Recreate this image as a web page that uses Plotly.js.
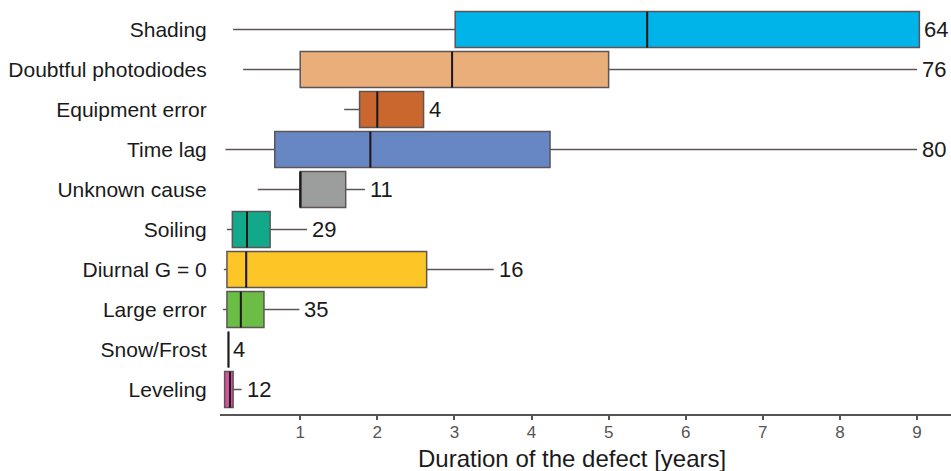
<!DOCTYPE html>
<html>
<head>
<meta charset="utf-8">
<script src="https://cdn.plot.ly/plotly-3.0.1.min.js"></script>
<style>
html,body{margin:0;padding:0;background:#fff;}
#chart{width:951px;height:471px;}
</style>
</head>
<body>
<div id="chart"></div>
<script>
// Categories listed top to bottom
var categories = ["Shading", "Doubtful photodiodes", "Equipment error", "Time lag", "Unknown cause",
                  "Soiling", "Diurnal G = 0", "Large error", "Snow/Frost", "Leveling"];
var lowerWhisker = [0.13, 0.26, 1.57, 0.03, 0.45, 0.05, 0.01, 0.00, 0.07, 0.02];
var q1Values     = [3.01, 1.00, 1.77, 0.67, 1.00, 0.12, 0.05, 0.05, 0.07, 0.02];
var medianValues = [5.50, 2.97, 2.00, 1.91, 1.00, 0.31, 0.30, 0.23, 0.07, 0.09];
var q3Values     = [9.03, 5.00, 2.60, 4.24, 1.59, 0.61, 2.64, 0.53, 0.07, 0.13];
var upperWhisker = [9.03, 9.00, 2.60, 9.00, 1.84, 1.09, 3.51, 0.99, 0.07, 0.24];
var counts       = [64, 76, 4, 80, 11, 29, 16, 35, 4, 12];
var colors = ["#00b3e9", "#e9ae79", "#c9672f", "#6787c4", "#9c9e9e",
              "#12a98b", "#fcc626", "#6bbd45", "#555555", "#d4519e"];
var tickValuesX = [1, 2, 3, 4, 5, 6, 7, 8, 9];

var n = categories.length;
var pos = categories.map(function (c, i) { return n - 1 - i; });
var boxWidth = 0.9;
var FONT = "Liberation Sans, Arial, sans-serif";

var traces = [];
categories.forEach(function (c, i) {
  traces.push({
    type: "box",
    orientation: "h",
    name: c,
    y: [pos[i]],
    q1: [q1Values[i]],
    median: [medianValues[i]],
    q3: [q3Values[i]],
    lowerfence: [lowerWhisker[i]],
    upperfence: [upperWhisker[i]],
    width: boxWidth,
    whiskerwidth: 0,
    fillcolor: colors[i],
    line: { color: "#5d5555", width: 1.5 },
    showlegend: false,
    hoverinfo: "skip"
  });
});

// dark median lines drawn over the boxes
var mx = [], my = [];
categories.forEach(function (c, i) {
  mx.push(medianValues[i], medianValues[i], null);
  my.push(pos[i] - boxWidth / 2, pos[i] + boxWidth / 2, null);
});
traces.push({
  type: "scatter", mode: "lines", x: mx, y: my,
  line: { color: "#1e1a1a", width: 2 },
  showlegend: false, hoverinfo: "skip"
});

var annotations = categories.map(function (c, i) {
  return {
    x: upperWhisker[i], y: pos[i], xref: "x", yref: "y",
    text: String(counts[i]), showarrow: false,
    xanchor: "left", yanchor: "middle", xshift: 3,
    font: { family: FONT, size: 22, color: "#1a1a1a" }
  };
});
annotations.push({
  x: 0.4815, y: 0, xref: "paper", yref: "paper",
  text: "Duration of the defect [years]", showarrow: false,
  xanchor: "center", yanchor: "middle", yshift: -44,
  font: { family: FONT, size: 24, color: "#1a1a1a" }
});

var layout = {
  width: 951, height: 471,
  margin: { l: 220, r: 0, t: 0, b: 57 },
  paper_bgcolor: "#ffffff", plot_bgcolor: "#ffffff",
  showlegend: false,
  xaxis: {
    range: [-0.04, 9.44],
    tickvals: tickValuesX,
    ticks: "outside", ticklen: 4, tickwidth: 2, tickcolor: "#555",
    ticklabelstandoff: -2,
    showline: true, linecolor: "#555", linewidth: 2,
    showgrid: false, zeroline: false,
    tickfont: { family: FONT, size: 17, color: "#555" }
  },
  yaxis: {
    range: [-0.61, 9.74],
    tickvals: pos,
    ticktext: categories,
    ticks: "outside", ticklen: 8, tickcolor: "rgba(0,0,0,0)",
    showline: false, showgrid: false, zeroline: false,
    tickfont: { family: FONT, size: 21, color: "#1a1a1a" }
  },
  annotations: annotations
};

Plotly.newPlot("chart", traces, layout, { staticPlot: true, displayModeBar: false });
</script>
</body>
</html>
